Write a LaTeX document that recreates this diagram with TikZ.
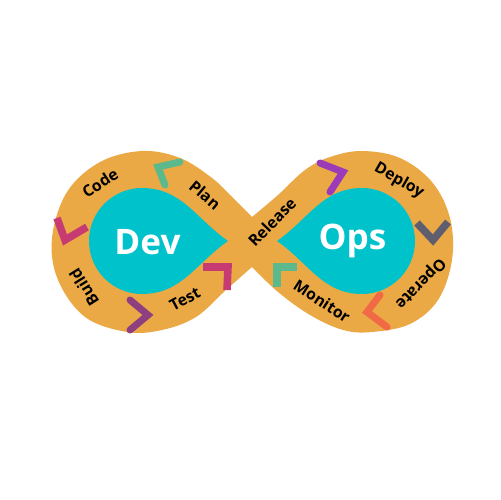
\documentclass[tikz,border=0pt]{standalone}
\usepackage{fontspec}
\setmainfont{Open Sans}
\definecolor{ringc}{HTML}{EBA946}
\definecolor{tealc}{HTML}{00C2CB}
\definecolor{greenc}{HTML}{5CB98B}
\definecolor{pinkc}{HTML}{C73B73}
\definecolor{plumc}{HTML}{8E3F80}
\definecolor{violc}{HTML}{9B3BB8}
\definecolor{greyc}{HTML}{5F5E6E}
\definecolor{coralc}{HTML}{F26946}
\tikzset{
  lbl/.style={font=\bfseries\fontsize{9}{10}\selectfont, text=black, inner sep=0pt},
  big/.style={font=\bfseries\fontsize{20}{22}\selectfont, text=white, inner sep=0pt, anchor=base},
  chev/.style={line width=4pt, line cap=round, line join=miter},
  chevsq/.style={line width=4.3pt, line cap=butt, line join=miter},
}
\begin{document}
\begin{tikzpicture}[x=0.02cm,y=0.02cm]
\useasboundingbox (0,0) rectangle (500,500);
% ring
\fill[ringc] plot[smooth, tension=0.6] coordinates {(252,283) (233,302) (212,322) (180,342) (142,349) (100,338) (67,308) (52,262) (58,220) (85,183) (127,168) (162,170) (196,183) (226,210) (252,233)}
  -- plot[smooth, tension=0.6] coordinates {(252,233) (278,208) (310,185) (343,170) (372,168) (410,176) (438,200) (452,240) (450,282) (432,318) (400,342) (362,349) (330,343) (305,330) (278,305) (252,283)} -- cycle;
% teardrops
\fill[tealc] (228,259) to[out=145,in=0] (142,312) arc[start angle=90,end angle=270,radius=53] to[out=0,in=-145] (228,259) -- cycle;
\fill[tealc] (277,259) to[out=35,in=180] (362,312) arc[start angle=90,end angle=-90,radius=53] to[out=180,in=-35] (277,259) -- cycle;
% big words
\node[big] (dev) at (147.5,245) {Dev};
\node[big] (ops) at (352.5,250) {Ops};
% labels
\node[lbl, rotate=33] (code) at (100,317) {Code};
\node[lbl, rotate=-40] (plan) at (205,305) {Plan};
\node[lbl, rotate=122] (build) at (84,213) {Build};
\node[lbl, rotate=28] (test) at (185,201) {Test};
\node[lbl, rotate=46] (release) at (272,278) {Release};
\node[lbl, rotate=-30] (deploy) at (399,319) {Deploy};
\node[lbl, rotate=-134] (operate) at (420,217) {Operate};
\node[lbl, rotate=-33] (monitor) at (322,199) {Monitor};
% chevrons
\draw[chev, greenc] (180,338) -- (158,333) -- (165,315);
\draw[chevsq, pinkc] (57,282) -- (65,260) -- (87,273);
\draw[chev, plumc] (130,200) -- (148,185) -- (130,170);
\draw[chevsq, pinkc] (203,233) -- (228,233) -- (227,210);
\draw[chev, violc] (320,337) -- (343,328) -- (330,308);
\draw[chevsq, greyc] (417,277) -- (433,260) -- (448,278);
\draw[chev, coralc] (380,205) -- (367,188) -- (387,173);
\draw[chevsq, greenc] (297,233) -- (277,233) -- (277,213);
\end{tikzpicture}
\end{document}
